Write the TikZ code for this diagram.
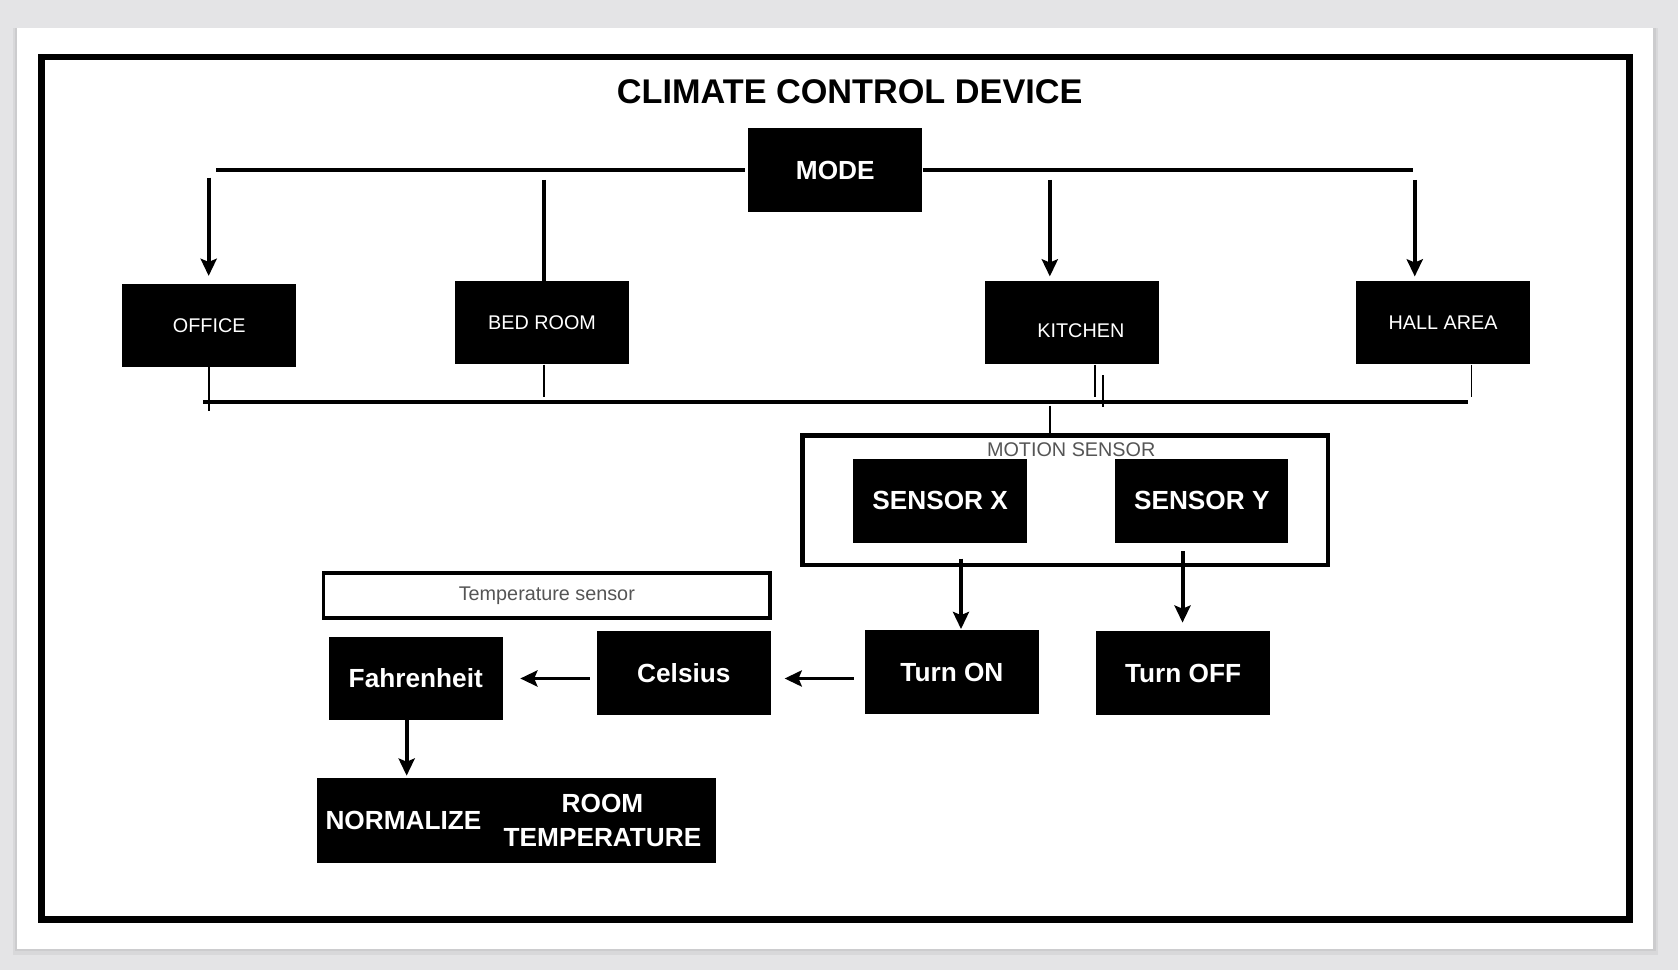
\documentclass[tikz,border=0pt]{standalone}
\usepackage{fontspec}
\setmainfont{Liberation Sans}
\usetikzlibrary{arrows.meta, positioning, calc}
\definecolor{pagegray}{HTML}{E4E4E6}
\definecolor{labelgray}{HTML}{555555}
\tikzset{
	every node/.style={
		align=center,
	},
	blackbox/.style={fill=black, text=white, minimum width=163pt, minimum height=78pt, inner sep=0pt},
	boldbox/.style={blackbox, font=\fontsize{24.5}{32}\selectfont\bfseries},
	roombox/.style={blackbox, font=\fontsize{18.5}{22}\selectfont},
	boldtext/.style={text=white, inner sep=0pt, font=\fontsize{24.5}{32}\selectfont\bfseries},
	roomtext/.style={text=white, inner sep=0pt, font=\fontsize{18.5}{22}\selectfont},
	outlinebox/.style={draw=black, line width=4pt, inner sep=0pt},
	graytext/.style={text=labelgray, font=\fontsize{18.5}{22}\selectfont},
	busline/.style={line width=4pt},
	feedline/.style={line width=3.7pt},
	arrowline/.style={line width=3.7pt, -{Stealth[length=16pt,width=15pt,inset=3pt]}},
	tapline/.style={line width=1.6pt},
}

\begin{document}
\begin{tikzpicture}[x=1pt, y=-1pt]
        % page, card and frame
        \fill[pagegray] (0,0) rectangle (1568,906);
        \fill[black, opacity=0.05] (12,26) rectangle (1549,892);
        \fill[black, opacity=0.05] (14,26) rectangle (1547,889);
        \fill[white] (16,26) rectangle (1545,887);
        \draw[line width=6.2pt] (38.9,53.1) rectangle (1522.9,859.4);
        \useasboundingbox (0,0) rectangle (1568,906);

        \node[font=\fontsize{32}{38}\selectfont\bfseries] (title) at (794,86) {CLIMATE CONTROL DEVICE};

        % rooms
        \node[boldbox] (mode) at (780.5,159) {MODE};
        \node[roombox] (office) at (195.5,304) {OFFICE};
        \node[roombox] (bedroom) at (506.5,301.5) {BED ROOM};
        \node[roombox] (kitchen) at (1001.5,301.5) {};
        \node[roomtext] (kitchenlabel) at ($(kitchen)+(8.5,7.5)$) {KITCHEN};
        \node[roombox] (hall) at (1348.5,301.5) {HALL AREA};

        % motion sensor
        \node[outlinebox, minimum width=491pt, minimum height=121pt] (motion) at (995.5,467.5) {};
        \node[graytext] (motionlabel) at (1001,420) {MOTION SENSOR};
        \node[boldbox] (sensorx) at (878.5,468) {SENSOR X};
        \node[boldbox, minimum width=162pt] (sensory) at (1123,468) {SENSOR Y};

        % temperature chain
        \node[outlinebox, line width=3pt, minimum width=417pt, minimum height=42pt, graytext] (tempsensor) at (511,556.5) {Temperature sensor};
        \node[boldbox] (turnon) at (889.5,628) {Turn ON};
        \node[boldbox] (turnoff) at (1105.5,629) {Turn OFF};
        \node[boldbox, minimum width=162pt] (celsius) at (639,629) {Celsius};
        \node[boldbox] (fahrenheit) at (388.5,634) {Fahrenheit};
        \node[blackbox, minimum width=373pt, minimum height=79pt] (normalize) at (482.5,766.5) {};
        \node[boldtext] (normword) at (377,767) {NORMALIZE};
        \node[boldtext] (roomtemp) at (563,767) {ROOM\\TEMPERATURE};

        % top bus
        \coordinate (busTL) at (202,159);
        \coordinate (busTR) at (1320,159);
        \draw[busline] ([xshift=-3pt]mode.west) -- (busTL);
        \draw[busline] (mode.east) -- (busTR);
        \coordinate (officeTop) at (195,166);
        \coordinate (bedTop) at (508,168);
        \coordinate (kitchenTop) at (981,168);
        \coordinate (hallTop) at (1322,168);
        \draw[arrowline, shorten >=7pt] (officeTop) -- (officeTop |- office.north);
        \draw[feedline] (bedTop) -- (bedTop |- bedroom.north);
        \draw[arrowline, shorten >=4pt] (kitchenTop) -- (kitchenTop |- kitchen.north);
        \draw[arrowline, shorten >=4pt] (hallTop) -- (hallTop |- hall.north);

        % bottom bus
        \coordinate (busBL) at (190,375.5);
        \coordinate (busBR) at (1372,375.5);
        \draw[busline] (busBL) -- (busBR);
        \coordinate (officeTap) at (195,384);
        \coordinate (bedTap) at (508,371);
        \coordinate (kitchenTapA) at (1023,371);
        \coordinate (kitchenTapB) at (1031,380);
        \coordinate (hallTap) at (1375,371);
        \coordinate (motionTap) at (981,379);
        \draw[tapline] (officeTap |- office.south) -- (officeTap);
        \draw[tapline] (bedTap |- bedroom.south) -- (bedTap);
        \draw[tapline] (kitchenTapA |- kitchen.south) -- (kitchenTapA);
        \draw[tapline] ($(kitchenTapB |- kitchen.south)+(0,10)$) -- (kitchenTapB);
        \draw[tapline] (hallTap |- hall.south) -- (hallTap);
        \draw[tapline] (motionTap) -- (motionTap |- motion.north);

        % sensors to switches
        \coordinate (sensorxOut) at (898,522);
        \coordinate (sensoryOut) at (1105,515);
        \draw[arrowline, shorten >=1pt] (sensorxOut) -- (sensorxOut |- turnon.north);
        \draw[arrowline, shorten >=8pt] (sensoryOut) -- (sensoryOut |- turnoff.north);

        % conversion
        \coordinate (turnonOut) at (798,634);
        \coordinate (celsiusOut) at (551,634);
        \draw[arrowline, shorten >=13pt] (turnonOut) -- (celsius.east |- turnonOut);
        \draw[arrowline, shorten >=16pt] (celsiusOut) -- (fahrenheit.east |- celsiusOut);
        \draw[arrowline, shorten >=2pt] ([xshift=-8.5pt]fahrenheit.south) -- ([xshift=-8.5pt]fahrenheit.south |- normalize.north);
\end{tikzpicture}
\end{document}
